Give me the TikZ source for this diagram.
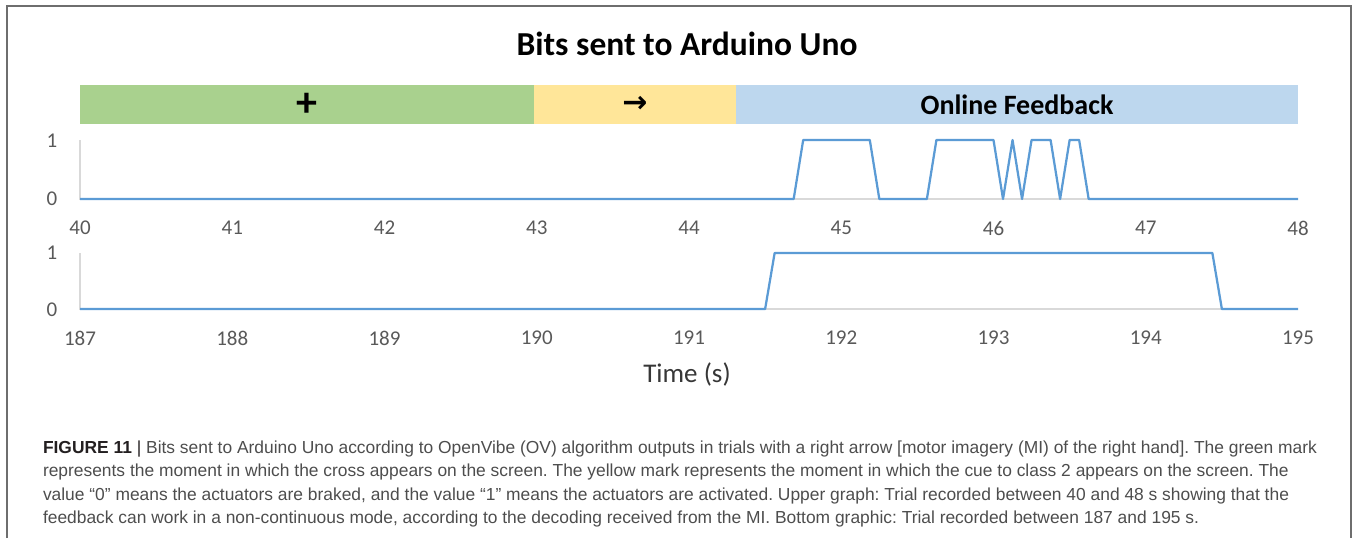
\documentclass[tikz,border=0pt]{standalone}
\usepackage{fontspec}
\usepackage{xcolor}
\usepackage{tikz}
\usetikzlibrary{positioning}

\newfontfamily\chartfont{Carlito}
\newfontfamily\capfont{Liberation Sans}
\newfontfamily\symfont{DejaVu Sans}
\frenchspacing

\definecolor{framegray}{RGB}{110,110,110}
\definecolor{barGreen}{RGB}{169,209,142}
\definecolor{barYellow}{RGB}{255,230,153}
\definecolor{barBlue}{RGB}{189,215,238}
\definecolor{sigblue}{RGB}{91,155,213}
\definecolor{axisgray}{RGB}{217,217,217}
\definecolor{tickgray}{RGB}{89,89,89}
\definecolor{timegray}{RGB}{55,55,55}
\definecolor{capgray}{RGB}{77,77,77}
\definecolor{capdark}{RGB}{35,31,32}

\begin{document}
\begin{tikzpicture}[x=1pt,y=-1pt,font=\chartfont]

                \tikzset{every node/.style={inner sep=0pt, outer sep=0pt},
                         bar/.style={anchor=north west, minimum height=39pt, font=\chartfont\bfseries\fontsize{28}{28}\selectfont},
                         tick/.style={text=tickgray, font=\chartfont\fontsize{21}{21}\selectfont},
                         signal/.style={draw=sigblue, line width=2.25pt, line join=round},
                         axis/.style={draw=axisgray, line width=1.5pt},
                         capline/.style={anchor=base west, text=capgray, font=\capfont\fontsize{17.4}{17.4}\selectfont}}

                \useasboundingbox (0,0) rectangle (1357,538);
                \draw[draw=framegray, line width=1.5pt] (7,538) -- (7,6) -- (1351,6) -- (1351,538);

                \node[font=\chartfont\bfseries\fontsize{33.5}{33.5}\selectfont] (T) at (687,44) {Bits sent to Arduino Uno};
                \node[bar, fill=barGreen, minimum width=454pt] (G) at (80,85) {\fontsize{42}{42}\selectfont +};
                \node[bar, fill=barYellow, minimum width=202pt, right=0pt of G] (Y) {\symfont\bfseries\fontsize{30}{30}\selectfont →};
                \node[bar, fill=barBlue, minimum width=562pt, right=0pt of Y] (F) {Online Feedback};

                \node[tick] (U1) at (52,141) {1};
                \node[tick] (U0) at (52,199) {0};
                \node[tick] (L1) at (52,253) {1};
                \node[tick] (L0) at (52,310) {0};
                \foreach \i in {0,...,8} {
                    \pgfmathtruncatemacro\a{40+\i}
                    \pgfmathtruncatemacro\b{187+\i}
                    \node[tick] (u\i) at (80+152.25*\i,228) {\a};
                    \node[tick] (l\i) at (80+152.25*\i,338) {\b};
                }

                \begin{scope}[shift={(80,199)}, x=152.25pt, y=59pt]
                    \draw[axis] (0,1) -- (0,0) -- (8,0);
                    \draw[signal] plot coordinates {(0,0) (4.6875,0) (4.75,1) (5.1875,1) (5.25,0) (5.5625,0) (5.625,1) (6,1) (6.0625,0) (6.125,1) (6.1875,0) (6.25,1) (6.375,1) (6.4375,0) (6.5,1) (6.5625,1) (6.625,0) (8,0)};
                \end{scope}
                \begin{scope}[shift={(80,309)}, x=152.25pt, y=56pt]
                    \draw[axis] (0,1) -- (0,0) -- (8,0);
                    \draw[signal] plot coordinates {(0,0) (4.5,0) (4.5625,1) (7.4375,1) (7.5,0) (8,0)};
                \end{scope}

                \node[text=timegray, font=\chartfont\fontsize{27}{27}\selectfont] (X) at (687,374) {Time (s)};

                \node[capline] (C1) at (43,453) {{\color{capdark}\bfseries FIGURE 11} {\color{capdark}|} Bits sent to Arduino Uno according to OpenVibe (OV) algorithm outputs in trials with a right arrow [motor imagery (MI) of the right hand]. The green mark};
                \node[capline] (C2) at (43,476.5) {represents the moment in which the cross appears on the screen. The yellow mark represents the moment in which the cue to class 2 appears on the screen. The};
                \node[capline] (C3) at (43,500) {value “0” means the actuators are braked, and the value “1” means the actuators are activated. Upper graph: Trial recorded between 40 and 48 s showing that the};
                \node[capline] (C4) at (43,523) {feedback can work in a non-continuous mode, according to the decoding received from the MI. Bottom graphic: Trial recorded between 187 and 195 s.};
            \end{tikzpicture}
\end{document}
